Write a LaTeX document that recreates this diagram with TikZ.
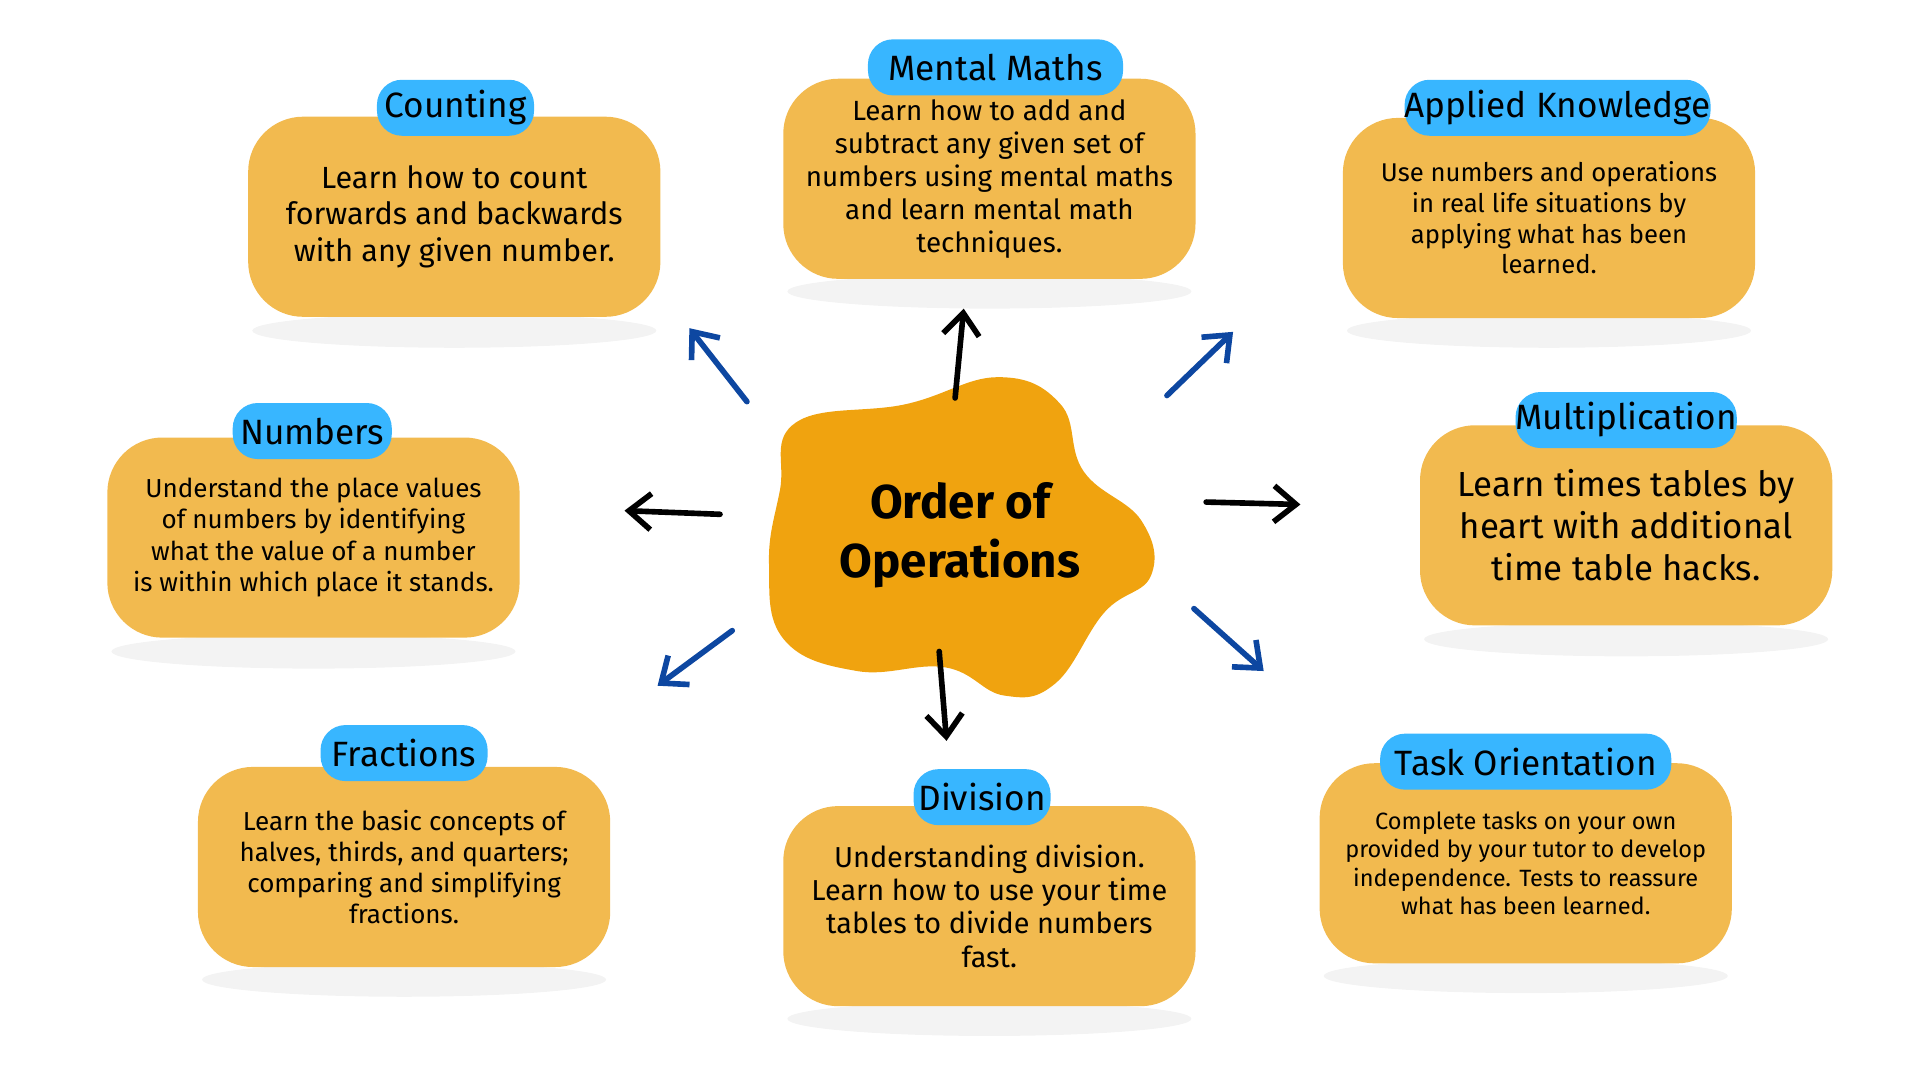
\documentclass[tikz,border=0pt]{standalone}
\usepackage{fontspec}
\setmainfont{Fira Sans}
\usetikzlibrary{arrows.meta,positioning,shapes}
\definecolor{cardcol}{HTML}{F2BA4F}
\definecolor{tabcol}{HTML}{38B6FF}
\definecolor{blobcol}{HTML}{F0A30F}
\definecolor{arrblue}{HTML}{0D47A1}
\tikzstyle{card} = [fill=cardcol,rounded corners=0.55cm,minimum width=4.12cm,minimum height=2.0cm,inner sep=0,align=center]
\tikzstyle{tab} = [fill=tabcol,rounded corners=0.25cm,minimum height=0.56cm,inner sep=0,font=\fontsize{10}{12}\selectfont]
\tikzstyle{shade} = [fill=black!8,opacity=0.6]
\tikzstyle{dark} = [-{Straight Barb[length=2.2mm,width=3.6mm]},line width=1.6pt,line cap=round,black]
\tikzstyle{light} = [-{Straight Barb[length=2.2mm,width=3.6mm]},line width=1.6pt,line cap=round,arrblue]
\begin{document}
\begin{tikzpicture}[x=0.012245cm,y=-0.012245cm]
      \useasboundingbox (0,0) rectangle (1568,882);
      % shadows
      \foreach \cx/\cy in {371/270,808/238,1265/270,256/532,1328/522,330/800,808/832,1246/797}
        \fill[shade] (\cx,\cy) ellipse (165 and 14);
      % cards
      \node[card,font=\fontsize{8.7}{10.4}\selectfont] (count) at (371,177) {Learn how to count\\forwards and backwards\\with any given number.};
      \node[card,font=\fontsize{7.9}{9.4}\selectfont] (mental) at (808,146) {Learn how to add and\\subtract any given set of\\numbers using mental maths\\and learn mental math\\techniques.};
      \node[card,font=\fontsize{7.3}{8.7}\selectfont] (applied) at (1265,178) {Use numbers and operations\\in real life situations by\\applying what has been\\learned.};
      \node[card,font=\fontsize{7.4}{8.9}\selectfont] (numbers) at (256,439) {Understand the place values\\of numbers by identifying\\what the value of a number\\is within which place it stands.};
      \node[card,font=\fontsize{9.9}{11.9}\selectfont] (mult) at (1328,429) {Learn times tables by\\heart with additional\\time table hacks.};
      \node[card,font=\fontsize{7.4}{8.9}\selectfont] (fract) at (330,708) {Learn the basic concepts of\\halves, thirds, and quarters;\\comparing and simplifying\\fractions.};
      \node[card,font=\fontsize{8.2}{9.5}\selectfont] (divis) at (808,740) {Understanding division.\\Learn how to use your time\\tables to divide numbers\\fast.};
      \node[card,font=\fontsize{6.7}{8.1}\selectfont] (task) at (1246,705) {Complete tasks on your own\\provided by your tutor to develop\\independence. Tests to reassure\\what has been learned.};
      % tabs
      \node[tab,minimum width=1.57cm] (tcount) at (372,88) {Counting};
      \node[tab,minimum width=2.55cm] (tmental) at (813,55) {Mental Maths};
      \node[tab,minimum width=2.99cm] (tapplied) at (1272,88) {Applied Knowledge};
      \node[tab,minimum width=1.59cm] (tnumbers) at (255,352) {Numbers};
      \node[tab,minimum width=2.2cm] (tmult) at (1328,343) {Multiplication};
      \node[tab,minimum width=1.67cm] (tfract) at (330,615) {Fractions};
      \node[tab,minimum width=1.37cm] (tdivis) at (802,651) {Division};
      \node[tab,minimum width=2.91cm] (ttask) at (1246,622) {Task Orientation};
      % centre blob
      \fill[blobcol] plot[smooth cycle,tension=0.7] coordinates {(650,345) (740,330) (815,308) (866,330) (885,385) (932,425) (940,470) (902,500) (862,558) (820,568) (772,545) (700,548) (640,522) (628,460) (637,400)};
      \node[font=\bfseries\fontsize{13.5}{16.7}\selectfont,align=center] (centre) at (784,437) {Order of\\Operations};
      % arrows
      \coordinate (a1) at (610,328); \coordinate (b1) at (563,268);
      \coordinate (a2) at (780,325); \coordinate (b2) at (787,252);
      \coordinate (a3) at (953,323); \coordinate (b3) at (1007,271);
      \coordinate (a4) at (588,420); \coordinate (b4) at (510,417);
      \coordinate (a5) at (985,410); \coordinate (b5) at (1062,412);
      \coordinate (a6) at (598,515); \coordinate (b6) at (537,560);
      \coordinate (a7) at (767,532); \coordinate (b7) at (773,605);
      \coordinate (a8) at (975,497); \coordinate (b8) at (1032,548);
      \draw[light] (a1) -- (b1);
      \draw[dark] (a2) -- (b2);
      \draw[light] (a3) -- (b3);
      \draw[dark] (a4) -- (b4);
      \draw[dark] (a5) -- (b5);
      \draw[light] (a6) -- (b6);
      \draw[dark] (a7) -- (b7);
      \draw[light] (a8) -- (b8);
    \end{tikzpicture}
\end{document}
